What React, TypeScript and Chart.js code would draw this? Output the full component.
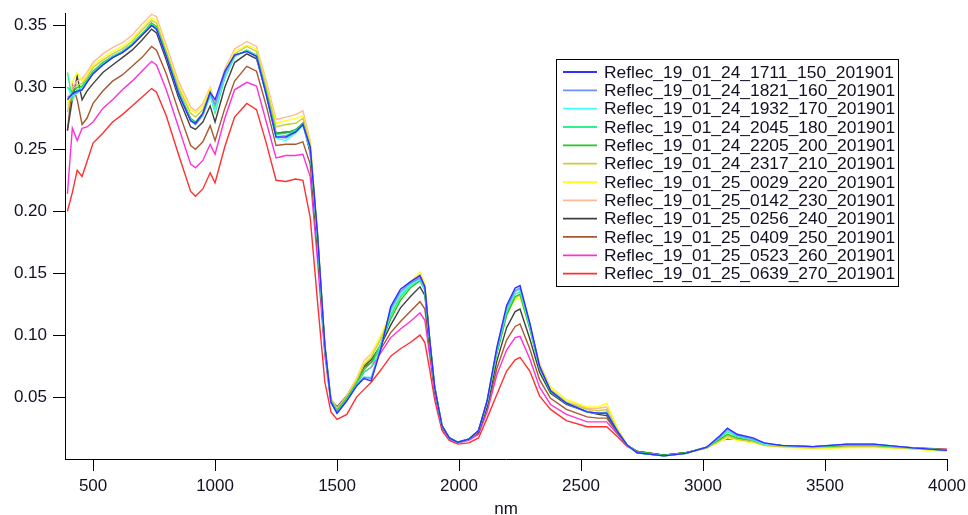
import React, { useEffect, useRef } from "react";
import { Chart, registerables } from "chart.js";

Chart.register(...registerables);

const wavelengths = [
  395, 415, 435, 455, 475, 500, 540, 580, 620, 660,
  700, 740, 760, 800, 850, 900, 920, 950, 980, 1000,
  1040, 1080, 1130, 1170, 1210, 1250, 1290, 1330, 1360, 1390,
  1420, 1450, 1475, 1500, 1540, 1580, 1610, 1640, 1680, 1720,
  1760, 1800, 1840, 1860, 1880, 1900, 1930, 1960, 1995, 2040,
  2080, 2115, 2155, 2195, 2230, 2250, 2290, 2330, 2375, 2440,
  2525, 2570, 2605, 2650, 2690, 2730, 2840, 2930, 3015, 3070,
  3100, 3140, 3205, 3250, 3320, 3450, 3590, 3700, 3860, 4000,
];

const s150 = [
  0.290, 0.295, 0.297, 0.298, 0.304, 0.311, 0.318, 0.324, 0.328, 0.334,
  0.342, 0.350, 0.347, 0.325, 0.295, 0.273, 0.271, 0.279, 0.296, 0.290,
  0.313, 0.326, 0.329, 0.325, 0.294, 0.260, 0.260, 0.264, 0.270, 0.252,
  0.182, 0.092, 0.046, 0.037, 0.047, 0.059, 0.065, 0.063, 0.089, 0.123,
  0.137, 0.143, 0.148, 0.139, 0.096, 0.058, 0.027, 0.017, 0.0135, 0.016,
  0.023, 0.047, 0.090, 0.124, 0.138, 0.140, 0.110, 0.075, 0.055, 0.045,
  0.038, 0.037, 0.037, 0.022, 0.011, 0.005, 0.0025, 0.0045, 0.0095, 0.019,
  0.025, 0.020, 0.017, 0.013, 0.011, 0.010, 0.012, 0.012, 0.009, 0.007,
];
const s160 = [
  0.292, 0.294, 0.296, 0.298, 0.304, 0.311, 0.318, 0.324, 0.328, 0.334,
  0.342, 0.350, 0.347, 0.325, 0.295, 0.273, 0.270, 0.278, 0.295, 0.286,
  0.311, 0.326, 0.329, 0.325, 0.294, 0.260, 0.259, 0.264, 0.270, 0.251,
  0.180, 0.091, 0.046, 0.037, 0.047, 0.059, 0.066, 0.065, 0.090, 0.121,
  0.135, 0.142, 0.146, 0.138, 0.096, 0.058, 0.027, 0.017, 0.0135, 0.016,
  0.023, 0.047, 0.089, 0.122, 0.136, 0.138, 0.109, 0.074, 0.055, 0.045,
  0.038, 0.037, 0.037, 0.022, 0.011, 0.005, 0.0025, 0.0045, 0.0095, 0.018,
  0.024, 0.019, 0.016, 0.013, 0.011, 0.010, 0.012, 0.012, 0.009, 0.007,
];
const s170 = [
  0.300, 0.293, 0.295, 0.299, 0.304, 0.311, 0.318, 0.324, 0.328, 0.334,
  0.342, 0.350, 0.347, 0.325, 0.295, 0.273, 0.270, 0.277, 0.293, 0.281,
  0.309, 0.325, 0.329, 0.325, 0.293, 0.259, 0.257, 0.263, 0.269, 0.250,
  0.178, 0.090, 0.046, 0.037, 0.047, 0.059, 0.066, 0.066, 0.091, 0.119,
  0.133, 0.141, 0.145, 0.137, 0.095, 0.058, 0.027, 0.017, 0.0135, 0.016,
  0.023, 0.046, 0.088, 0.121, 0.135, 0.137, 0.108, 0.074, 0.055, 0.045,
  0.038, 0.037, 0.037, 0.022, 0.011, 0.005, 0.0025, 0.0045, 0.0095, 0.018,
  0.023, 0.019, 0.016, 0.012, 0.011, 0.010, 0.012, 0.012, 0.009, 0.007,
];
const s180 = [
  0.312, 0.290, 0.298, 0.300, 0.305, 0.312, 0.319, 0.325, 0.329, 0.335,
  0.343, 0.351, 0.348, 0.326, 0.296, 0.274, 0.271, 0.278, 0.294, 0.280,
  0.308, 0.325, 0.330, 0.326, 0.295, 0.262, 0.261, 0.265, 0.270, 0.250,
  0.178, 0.090, 0.047, 0.038, 0.048, 0.060, 0.070, 0.074, 0.093, 0.116,
  0.131, 0.140, 0.145, 0.137, 0.095, 0.058, 0.027, 0.017, 0.0135, 0.016,
  0.023, 0.046, 0.087, 0.119, 0.133, 0.135, 0.107, 0.074, 0.055, 0.045,
  0.038, 0.037, 0.038, 0.022, 0.011, 0.005, 0.0025, 0.0045, 0.0095, 0.017,
  0.022, 0.018, 0.015, 0.012, 0.011, 0.010, 0.0115, 0.0115, 0.009, 0.007,
];
const s200 = [
  0.300, 0.296, 0.300, 0.301, 0.306, 0.313, 0.320, 0.325, 0.329, 0.335,
  0.343, 0.352, 0.349, 0.327, 0.297, 0.275, 0.272, 0.279, 0.295, 0.280,
  0.308, 0.325, 0.330, 0.326, 0.296, 0.263, 0.263, 0.266, 0.271, 0.250,
  0.178, 0.090, 0.047, 0.039, 0.049, 0.061, 0.072, 0.078, 0.093, 0.113,
  0.128, 0.138, 0.144, 0.136, 0.095, 0.058, 0.027, 0.017, 0.0135, 0.016,
  0.023, 0.045, 0.085, 0.116, 0.131, 0.133, 0.105, 0.073, 0.054, 0.045,
  0.038, 0.037, 0.037, 0.022, 0.011, 0.006, 0.003, 0.005, 0.0095, 0.016,
  0.020, 0.017, 0.015, 0.012, 0.011, 0.010, 0.011, 0.011, 0.009, 0.0075,
];
const s210 = [
  0.280, 0.298, 0.302, 0.303, 0.308, 0.316, 0.322, 0.327, 0.331, 0.337,
  0.346, 0.354, 0.352, 0.329, 0.300, 0.279, 0.276, 0.282, 0.297, 0.283,
  0.311, 0.327, 0.333, 0.329, 0.300, 0.268, 0.270, 0.271, 0.275, 0.254,
  0.180, 0.091, 0.048, 0.040, 0.050, 0.063, 0.076, 0.082, 0.097, 0.116,
  0.130, 0.141, 0.147, 0.139, 0.096, 0.058, 0.027, 0.017, 0.0135, 0.016,
  0.023, 0.046, 0.086, 0.117, 0.131, 0.133, 0.107, 0.075, 0.056, 0.046,
  0.040, 0.039, 0.040, 0.023, 0.011, 0.005, 0.0025, 0.0045, 0.009, 0.015,
  0.019, 0.016, 0.014, 0.011, 0.010, 0.009, 0.010, 0.010, 0.0085, 0.0068,
];
const s220 = [
  0.285, 0.305, 0.312, 0.305, 0.310, 0.318, 0.324, 0.329, 0.333, 0.339,
  0.348, 0.356, 0.354, 0.331, 0.302, 0.282, 0.279, 0.285, 0.299, 0.285,
  0.313, 0.329, 0.334, 0.331, 0.302, 0.271, 0.273, 0.275, 0.277, 0.256,
  0.182, 0.092, 0.048, 0.040, 0.050, 0.064, 0.078, 0.084, 0.100, 0.118,
  0.132, 0.143, 0.151, 0.142, 0.098, 0.059, 0.027, 0.017, 0.0135, 0.016,
  0.023, 0.046, 0.086, 0.117, 0.129, 0.130, 0.106, 0.076, 0.058, 0.048,
  0.042, 0.042, 0.045, 0.025, 0.011, 0.005, 0.0025, 0.0045, 0.009, 0.014,
  0.017, 0.015, 0.013, 0.011, 0.0095, 0.0085, 0.009, 0.0095, 0.008, 0.006,
];
const s230 = [
  0.290, 0.300, 0.305, 0.307, 0.312, 0.320, 0.327, 0.332, 0.336, 0.342,
  0.351, 0.359, 0.357, 0.334, 0.305, 0.284, 0.281, 0.287, 0.300, 0.287,
  0.315, 0.331, 0.337, 0.333, 0.305, 0.274, 0.276, 0.278, 0.281, 0.257,
  0.183, 0.093, 0.049, 0.041, 0.051, 0.065, 0.079, 0.085, 0.099, 0.116,
  0.131, 0.142, 0.149, 0.141, 0.097, 0.059, 0.027, 0.017, 0.0135, 0.016,
  0.023, 0.046, 0.086, 0.117, 0.130, 0.132, 0.108, 0.077, 0.058, 0.048,
  0.041, 0.041, 0.042, 0.024, 0.011, 0.005, 0.0025, 0.0045, 0.009, 0.0145,
  0.018, 0.016, 0.014, 0.011, 0.010, 0.009, 0.0095, 0.010, 0.0085, 0.0065,
];
const s240 = [
  0.265, 0.290, 0.309, 0.290, 0.297, 0.303, 0.312, 0.318, 0.324, 0.330,
  0.338, 0.347, 0.344, 0.322, 0.292, 0.268, 0.266, 0.272, 0.285, 0.272,
  0.300, 0.320, 0.327, 0.323, 0.295, 0.263, 0.264, 0.264, 0.271, 0.247,
  0.175, 0.090, 0.048, 0.042, 0.051, 0.064, 0.075, 0.080, 0.092, 0.108,
  0.122, 0.131, 0.139, 0.132, 0.093, 0.057, 0.026, 0.017, 0.0135, 0.016,
  0.022, 0.043, 0.079, 0.106, 0.119, 0.121, 0.097, 0.070, 0.053, 0.044,
  0.038, 0.036, 0.035, 0.022, 0.011, 0.006, 0.003, 0.005, 0.009, 0.015,
  0.017, 0.016, 0.014, 0.012, 0.011, 0.0095, 0.010, 0.0105, 0.0085, 0.0068,
];
const s250 = [
  0.265, 0.302, 0.290, 0.270, 0.275, 0.287, 0.297, 0.305, 0.310, 0.317,
  0.324, 0.333, 0.330, 0.311, 0.281, 0.253, 0.250, 0.256, 0.269, 0.257,
  0.283, 0.305, 0.317, 0.313, 0.285, 0.253, 0.254, 0.254, 0.256, 0.238,
  0.168, 0.088, 0.046, 0.040, 0.050, 0.063, 0.074, 0.078, 0.089, 0.102,
  0.111, 0.119, 0.127, 0.121, 0.088, 0.055, 0.026, 0.017, 0.0135, 0.016,
  0.021, 0.041, 0.073, 0.096, 0.107, 0.109, 0.089, 0.064, 0.049, 0.040,
  0.034, 0.033, 0.033, 0.021, 0.011, 0.006, 0.003, 0.005, 0.009, 0.015,
  0.017, 0.016, 0.014, 0.012, 0.011, 0.0098, 0.0105, 0.011, 0.009, 0.0075,
];
const s260 = [
  0.214, 0.267, 0.257, 0.267, 0.268, 0.272, 0.283, 0.290, 0.298, 0.305,
  0.313, 0.321, 0.318, 0.298, 0.268, 0.238, 0.235, 0.241, 0.254, 0.246,
  0.275, 0.298, 0.304, 0.301, 0.272, 0.243, 0.245, 0.245, 0.246, 0.228,
  0.160, 0.084, 0.045, 0.038, 0.048, 0.060, 0.070, 0.074, 0.086, 0.098,
  0.105, 0.111, 0.118, 0.112, 0.083, 0.053, 0.025, 0.016, 0.013, 0.015,
  0.020, 0.038, 0.068, 0.088, 0.098, 0.099, 0.081, 0.058, 0.044, 0.036,
  0.030, 0.030, 0.030, 0.020, 0.011, 0.006, 0.003, 0.005, 0.009, 0.015,
  0.016, 0.016, 0.014, 0.012, 0.011, 0.0098, 0.0105, 0.011, 0.009, 0.0078,
];
const s270 = [
  0.200, 0.215, 0.233, 0.228, 0.240, 0.255, 0.263, 0.272, 0.278, 0.285,
  0.292, 0.299, 0.296, 0.277, 0.246, 0.216, 0.212, 0.218, 0.231, 0.223,
  0.252, 0.276, 0.287, 0.282, 0.255, 0.225, 0.224, 0.226, 0.225, 0.195,
  0.127, 0.062, 0.038, 0.032, 0.036, 0.050, 0.056, 0.062, 0.072, 0.083,
  0.089, 0.094, 0.100, 0.094, 0.072, 0.048, 0.023, 0.015, 0.012, 0.013,
  0.017, 0.033, 0.052, 0.071, 0.080, 0.082, 0.071, 0.051, 0.040, 0.031,
  0.026, 0.026, 0.026, 0.018, 0.010, 0.006, 0.003, 0.005, 0.0095, 0.017,
  0.017, 0.016, 0.014, 0.012, 0.011, 0.010, 0.0102, 0.011, 0.0092, 0.008,
];

const seriesLabels = [
  "Reflec_19_01_24_1711_150_201901",
  "Reflec_19_01_24_1821_160_201901",
  "Reflec_19_01_24_1932_170_201901",
  "Reflec_19_01_24_2045_180_201901",
  "Reflec_19_01_24_2205_200_201901",
  "Reflec_19_01_24_2317_210_201901",
  "Reflec_19_01_25_0029_220_201901",
  "Reflec_19_01_25_0142_230_201901",
  "Reflec_19_01_25_0256_240_201901",
  "Reflec_19_01_25_0409_250_201901",
  "Reflec_19_01_25_0523_260_201901",
  "Reflec_19_01_25_0639_270_201901",
];
const seriesValues = [s150, s160, s170, s180, s200, s210, s220, s230, s240, s250, s260, s270];
const seriesColors = [
  "#3030ff", "#7090ff", "#40ffff", "#30f090", "#20c820", "#cccc40",
  "#ffff20", "#ffb898", "#404040", "#a85830", "#ff30d8", "#ff3030",
];

const xTicks = [500, 1000, 1500, 2000, 2500, 3000, 3500, 4000];
const yTicks = [0.05, 0.1, 0.15, 0.2, 0.25, 0.3, 0.35];
const xTitle = "nm";

const FONT = "'Liberation Sans', Arial, sans-serif";

const boxLegend = {
  id: "boxLegend",
  afterDraw(chart: any) {
    const ctx = chart.ctx;
    const ca = chart.chartArea;
    const left = ca.left + 491;
    const top = ca.top + 46;
    const w = 342;
    const h = 227;
    const rowH = 18.33;
    ctx.save();
    ctx.fillStyle = "#ffffff";
    ctx.fillRect(left, top, w, h);
    ctx.strokeStyle = "#000000";
    ctx.lineWidth = 1;
    ctx.strokeRect(left + 0.5, top + 0.5, w, h);
    ctx.font = `17.4px ${FONT}`;
    ctx.textBaseline = "middle";
    ctx.textAlign = "left";
    chart.data.datasets.forEach((ds: any, i: number) => {
      const y = top + 13 + i * rowH;
      ctx.strokeStyle = ds.borderColor;
      ctx.lineWidth = 1.8;
      ctx.beginPath();
      ctx.moveTo(left + 7, y);
      ctx.lineTo(left + 41, y);
      ctx.stroke();
      ctx.fillStyle = "#111122";
      ctx.fillText(ds.label, left + 48, y + 1);
    });
    ctx.restore();
  },
};

export default function App() {
  const ref = useRef<HTMLCanvasElement | null>(null);
  useEffect(() => {
    document.body.style.margin = "0";
    const canvas = ref.current;
    if (!canvas) return;
    const datasets = seriesLabels.map((label, k) => ({
      label,
      data: wavelengths.map((x, i) => ({ x, y: seriesValues[k][i] })),
      borderColor: seriesColors[k],
      backgroundColor: seriesColors[k],
      borderWidth: 1.4,
      pointRadius: 0,
      tension: 0,
      fill: false,
    }));
    const chart = new Chart(canvas, {
      type: "line",
      data: { datasets },
      plugins: [boxLegend],
      options: {
        animation: false,
        responsive: false,
        maintainAspectRatio: false,
        devicePixelRatio: 1,
        layout: { padding: { left: 0, right: 21, top: 13, bottom: 0 } },
        plugins: {
          legend: { display: false },
          tooltip: { enabled: false },
        },
        scales: {
          x: {
            type: "linear",
            min: 385,
            max: 4000,
            afterBuildTicks: (axis: any) => {
              axis.ticks = xTicks.map((v) => ({ value: v }));
            },
            afterFit: (axis: any) => {
              axis.height = 56;
              axis.paddingLeft = 0;
              axis.paddingRight = 0;
            },
            grid: {
              display: true,
              drawOnChartArea: false,
              drawTicks: true,
              tickLength: 12,
              color: "#000000",
              lineWidth: 1,
            },
            border: { display: true, color: "#000000", width: 1 },
            ticks: {
              color: "#111122",
              font: { family: FONT, size: 17 },
              padding: 5,
              maxRotation: 0,
              autoSkip: false,
              callback: (v: any) => String(v),
            },
            title: {
              display: true,
              text: xTitle,
              color: "#111122",
              font: { family: FONT, size: 17, lineHeight: 0.7 },
              padding: { top: 0, bottom: 0 },
            },
          },
          y: {
            type: "linear",
            min: 0,
            max: 0.36,
            afterBuildTicks: (axis: any) => {
              axis.ticks = yTicks.map((v) => ({ value: v }));
            },
            afterFit: (axis: any) => {
              axis.width = 65;
              axis.paddingTop = 0;
              axis.paddingBottom = 0;
            },
            grid: {
              display: true,
              drawOnChartArea: false,
              drawTicks: true,
              tickLength: 12,
              color: "#000000",
              lineWidth: 1,
            },
            border: { display: true, color: "#000000", width: 1 },
            ticks: {
              color: "#111122",
              font: { family: FONT, size: 17 },
              padding: 6,
              autoSkip: false,
              callback: (v: any) => Number(v).toFixed(2),
            },
          },
        },
      },
    });
    return () => chart.destroy();
  }, []);
  return (
    <div style={{ position: "absolute", left: 0, top: 0, width: 968, height: 515 }}>
      <canvas ref={ref} width={968} height={515} style={{ width: 968, height: 515 }} />
    </div>
  );
}
